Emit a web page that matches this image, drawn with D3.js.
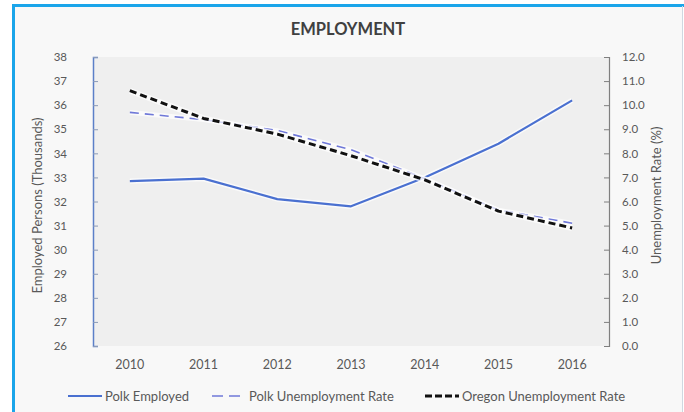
<!DOCTYPE html>
<html>
<head>
<meta charset="utf-8">
<script src="https://cdn.jsdelivr.net/npm/d3@7"></script>
<style>
  body { margin: 0; background: #fff; }
  svg { display: block; font-family: Lato, "Open Sans", sans-serif; }
</style>
</head>
<body>
<div id="chart"></div>
<script>
const width = 684;
const height = 412;

// data
const years = ["2010", "2011", "2012", "2013", "2014", "2015", "2016"];
const polkEmployed = [32.85, 32.95, 32.1, 31.8, 33.0, 34.4, 36.2];          // thousands
const polkUnemployment = [9.7, 9.4, 8.95, 8.15, 6.95, 5.65, 5.1];           // %
const oregonUnemployment = [10.6, 9.45, 8.8, 7.9, 6.9, 5.6, 4.9];           // %
const leftTicks = d3.range(26, 39, 1);
const rightTicks = d3.range(0, 13, 1);

const plot = { left: 93, right: 609, top: 57, bottom: 346 };

const svg = d3.select("#chart").append("svg")
    .attr("width", width)
    .attr("height", height);

// chart area + frame
svg.append("rect")
    .attr("x", 14).attr("y", 6)
    .attr("width", width - 16).attr("height", height - 6)
    .attr("fill", "#f8f8f8");
svg.append("line")
    .attr("x1", 13.5).attr("x2", 13.5).attr("y1", 4).attr("y2", height)
    .attr("stroke", "#1aa5ea").attr("stroke-width", 3);
svg.append("line")
    .attr("x1", 12).attr("x2", width).attr("y1", 5.5).attr("y2", 5.5)
    .attr("stroke", "#1aa5ea").attr("stroke-width", 3);
svg.append("line")
    .attr("x1", 682.5).attr("x2", 682.5).attr("y1", 6).attr("y2", height)
    .attr("stroke", "#cfd8e0").attr("stroke-width", 1);

// plot area
svg.append("rect")
    .attr("x", plot.left).attr("y", plot.top)
    .attr("width", plot.right - plot.left).attr("height", plot.bottom - plot.top)
    .attr("fill", "#efefef");

const x = d3.scaleBand().domain(years).range([plot.left, plot.right]).padding(0);
const yL = d3.scaleLinear().domain([26, 38]).range([plot.bottom, plot.top]);
const yR = d3.scaleLinear().domain([0, 12]).range([plot.bottom, plot.top]);

// title
svg.append("text")
    .attr("x", 348).attr("y", 35)
    .attr("text-anchor", "middle")
    .style("font-size", "16.5px").style("font-weight", "bold")
    .style("fill", "#404040")
    .text("EMPLOYMENT");

// left axis
const gL = svg.append("g")
    .attr("transform", `translate(${plot.left},0)`)
    .call(d3.axisLeft(yL).tickValues(leftTicks).tickSize(-5).tickPadding(26).tickFormat(d3.format("d")));
gL.select(".domain").attr("stroke", "#5b7fc8").attr("stroke-width", 1.5);
gL.selectAll(".tick line").attr("stroke", "#8a9ab8");
gL.selectAll(".tick text").style("font-size", "11.5px").style("fill", "#595959").style("font-family", "Lato, sans-serif");

// right axis
const gR = svg.append("g")
    .attr("transform", `translate(${plot.right},0)`)
    .call(d3.axisRight(yR).tickValues(rightTicks).tickSize(-5).tickPadding(13).tickFormat(d3.format(".1f")));
gR.select(".domain").attr("stroke", "#7f7f7f").attr("stroke-width", 1.2);
gR.selectAll(".tick line").attr("stroke", "#7f7f7f");
gR.selectAll(".tick text").style("font-size", "11.5px").style("fill", "#595959").style("font-family", "Lato, sans-serif");

// x labels
const gX = svg.append("g")
    .attr("transform", `translate(0,${plot.bottom})`)
    .call(d3.axisBottom(x).tickSize(0).tickPadding(14));
gX.select(".domain").remove();
gX.selectAll(".tick text").style("font-size", "12.5px").style("fill", "#595959").style("font-family", "Lato, sans-serif");

// axis titles
svg.append("text")
    .attr("transform", `translate(42,${(plot.top + plot.bottom) / 2 + 4}) rotate(-90)`)
    .attr("text-anchor", "middle")
    .style("font-size", "13px").style("fill", "#595959")
    .text("Employed Persons (Thousands)");
svg.append("text")
    .attr("transform", `translate(661,${(plot.top + plot.bottom) / 2 - 6}) rotate(-90)`)
    .attr("text-anchor", "middle")
    .style("font-size", "13px").style("fill", "#595959")
    .text("Unemployment Rate (%)");

const cx = d => x(d) + x.bandwidth() / 2;

const series = [
    { name: "Polk Employed", values: polkEmployed, scale: yL, color: "#4a70d0", width: 2.2, dash: null },
    { name: "Polk Unemployment Rate", values: polkUnemployment, scale: yR, color: "#6f78d8", width: 1.6, dash: "9,6" },
    { name: "Oregon Unemployment Rate", values: oregonUnemployment, scale: yR, color: "#111", width: 3, dash: "7,4" }
];

series.forEach(s => {
    const line = d3.line()
        .x((d, i) => cx(years[i]))
        .y(d => s.scale(d));
    // soft white glow under each line
    svg.append("path")
        .datum(s.values)
        .attr("d", line)
        .attr("fill", "none")
        .attr("stroke", "#ffffff")
        .attr("stroke-opacity", 0.7)
        .attr("stroke-width", s.width + 3)
        .attr("stroke-linejoin", "round");
    svg.append("path")
        .datum(s.values)
        .attr("d", line)
        .attr("fill", "none")
        .attr("stroke", s.color)
        .attr("stroke-width", s.width)
        .attr("stroke-dasharray", s.dash)
        .attr("stroke-linejoin", "round");
});

// legend
const legendX = [68, 212, 425];
const legendY = 396;
series.forEach((s, i) => {
    const g = svg.append("g").attr("transform", `translate(${legendX[i]},${legendY})`);
    g.append("line")
        .attr("x1", 0).attr("x2", 34).attr("y1", 0).attr("y2", 0)
        .attr("stroke", s.color)
        .attr("stroke-width", s.width)
        .attr("stroke-dasharray", i === 1 ? "11,6" : (i === 2 ? "7,3" : null));
    g.append("text")
        .attr("x", 37).attr("y", 4.5)
        .style("font-size", "13px").style("fill", "#595959")
        .text(s.name);
});
</script>
</body>
</html>
